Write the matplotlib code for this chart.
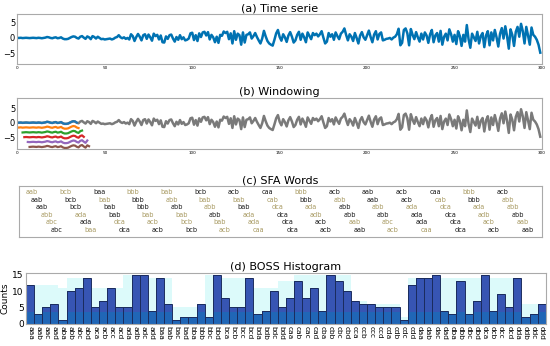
import matplotlib
matplotlib.use("Agg")
import matplotlib.pyplot as plt
import numpy as np

# time series, 300 points
serie = [
    0.0, 0.0, 0.05, -0.05, 0.0, 0.05, 0.0, -0.05, 0.0, 0.05,
    0.0, -0.05, 0.05, 0.0, -0.1, 0.0, 0.1, 0.3, 0.2, 0.0,
    -0.1, 0.1, 0.2, -0.1, 0.0, 0.2, -0.2, -0.4, -0.4, -0.3,
    0.0, 0.3, 0.5, 0.4, 0.0, -0.2, 0.4, 0.6, 0.1, -0.3,
    0.5, 0.2, -0.4, 0.6, 0.3, -0.2, 0.4, 0.0, -0.4, -0.3,
    -0.5, -0.4, -0.3, -0.2, -0.5, -0.3, 0.1, 0.3, 0.9, 0.2,
    -0.1, 0.2, -0.3, 0.0, -0.5, 1.2, 0.6, -1.0, 0.3, 1.3,
    0.4, -0.8, 0.9, 1.2, -0.3, 1.1, 0.2, -0.9, 1.4, 0.6,
    1.0, -0.5, 0.8, -1.4, -1.5, 0.5, -0.3, 0.9, 1.1, -0.2,
    -1.2, 0.3, -0.6, 0.9, -0.4, 0.2, -0.8, -0.6, -0.2, 1.5,
    1.7, -0.7, 0.9, -1.0, 1.5, 0.3, 1.8, 2.0, 0.8, 1.9,
    -0.5, 1.0, 0.2, -1.4, 0.4, -1.6, 1.0, 0.7, 2.1, 1.6,
    2.0, -0.4, 1.5, -1.8, 2.2, -0.6, 1.4, 0.9, -2.2, 1.8,
    -1.5, 1.0, 1.2, 1.8, -0.2, 0.6, 1.6, 0.3, -0.8, -1.8,
    -0.2, 2.3, 0.5, -1.0, -1.8, -2.2, -2.5, -0.6, 1.5, 2.6,
    0.3, -0.9, 1.2, 0.2, -1.3, 0.8, 1.9, 0.4, -1.5, -0.8,
    1.0, 2.0, -0.6, 1.4, 0.2, -1.4, 1.8, 0.7, -0.4, 1.6,
    0.9, 1.4, 0.5, 1.2, 2.2, 0.1, -1.8, -1.2, 1.6, 0.4,
    1.2, -0.6, 1.8, 0.6, -0.4, 1.4, 2.0, 3.1, 1.0, -0.8,
    1.2, 0.4, -1.0, 1.6, 0.0, -1.8, 0.8, 1.9, 0.2, -0.6,
    0.9, 2.4, 0.3, -1.4, 1.1, 2.2, -0.5, 1.3, 1.8, -0.8,
    -0.6, -0.3, -0.2, 0.0, -0.5, 0.1, 0.4, 1.2, 3.0, -2.4,
    -1.6, 2.6, 3.1, 1.5, -2.4, 2.9, 1.0, -0.4, 1.9, 0.2,
    -1.2, 1.4, -0.5, 1.8, 0.8, -1.6, 1.2, 2.6, -1.4, 0.8,
    1.6, -1.2, 2.3, -2.2, 0.4, 1.4, -0.8, 2.8, 1.2, -1.2,
    1.0, -2.0, 2.2, 0.6, -2.6, 1.0, -1.2, 4.2, -0.4, -3.2,
    1.4, 0.2, -1.0, 2.0, -1.8, 0.6, 1.6, -3.0, 0.8, 2.2,
    -2.4, 1.8, -0.8, 2.6, 0.2, -2.8, 1.4, 3.2, -0.2, 3.8,
    0.6, -3.5, 2.8, 1.0, -2.6, 2.0, 3.6, 0.4, 4.6, 2.2,
    -1.8, 3.6, 0.8, -2.2, 3.4, 1.0, 0.4, -0.6, -2.2, -4.8,
]

# sliding windows shown in panel (b)
win_starts = [0, 1, 3, 4, 6, 7]
win_len = 35
win_offset = 1.65
win_colors = ['#1f77b4', '#ff7f0e', '#2ca02c', '#d62728', '#9467bd', '#8c564b']

# SFA words, one row per window, 'g' = highlighted word
words = [
    ['aab', 'bcb', 'baa', 'bbb', 'bab', 'bcb', 'acb', 'caa', 'bbb', 'acb', 'aab', 'acb', 'caa', 'bbb', 'acb'],
    ['aab', 'bcb', 'bab', 'bbb', 'abb', 'bab', 'bab', 'cab', 'bbb', 'abb', 'aab', 'acb', 'cab', 'bbb', 'abb'],
    ['aab', 'bcb', 'bab', 'bbb', 'abb', 'abb', 'bab', 'dca', 'ada', 'abb', 'abb', 'ada', 'dca', 'ada', 'abb'],
    ['abb', 'ada', 'bab', 'bab', 'bab', 'abb', 'ada', 'dca', 'adb', 'abb', 'abb', 'ada', 'dca', 'adb', 'abb'],
    ['abc', 'ada', 'dca', 'acb', 'bcb', 'bab', 'ada', 'dca', 'acb', 'aab', 'abc', 'ada', 'dca', 'acb', 'aab'],
    ['abc', 'baa', 'dca', 'acb', 'bcb', 'acb', 'caa', 'dca', 'acb', 'aab', 'acb', 'caa', 'dca', 'acb', 'aab'],
]
word_marks = [
    'ggkggkkkgkkkkgk',
    'kkgkggggkgkkgkg',
    'kkkkkgkggkgggggk'[:15],
    'ggkggkgkgkkkkgk',
    'gkgggggkkggkkgg',
    'kgkkkggkkkggkkk',
]

# BOSS histogram
letters = 'abcd'
hist_labels = [a + b + c for a in letters for b in letters for c in letters]
hist_counts = [12, 3, 5, 6, 1, 10, 11, 14, 5, 7, 11, 5, 5, 15, 15, 4,
               14, 6, 1, 2, 2, 6, 2, 15, 8, 5, 5, 14, 3, 4, 10, 5,
               8, 13, 8, 11, 4, 15, 13, 10, 7, 6, 6, 5, 5, 5, 1, 12,
               14, 14, 15, 4, 3, 13, 3, 7, 15, 4, 9, 5, 14, 2, 3, 6]
hist_shade = [12, 12, 12, 12, 11, 14, 14, 14, 11, 11, 11, 11, 15, 15, 15, 14,
              14, 14, 5, 5, 5, 6, 15, 15, 14, 14, 14, 14, 11, 11, 11, 13,
              13, 15, 15, 15, 15, 15, 15, 15, 7, 7, 6, 6, 6, 6, 2, 14,
              14, 14, 14, 14, 14, 14, 14, 14, 14, 14, 14, 14, 14, 6, 6, 6]

fig = plt.figure(figsize=(5.5, 3.46), dpi=100)
spine_c = '#aaaaaa'
title_fs = 8

def style(ax):
    for s in ax.spines.values():
        s.set_color(spine_c)
        s.set_linewidth(0.8)
    ax.tick_params(length=0, pad=1.5)

x = np.arange(len(serie))
y = np.array(serie)

# (a)
ax1 = fig.add_axes([0.0315, 0.815, 0.954, 0.1445])
ax1.plot(x, y, color='#0072b2', lw=1.8)
ax1.set_xlim(0, 300)
ax1.set_ylim(-8.5, 7.8)
ax1.set_yticks([-5, 0, 5])
ax1.set_xticks(range(0, 301, 50))
ax1.tick_params(axis='y', labelsize=6)
ax1.tick_params(axis='x', labelsize=3)
style(ax1)
ax1.set_title('(a) Time serie', fontsize=title_fs, pad=2)

# (b)
ax2 = fig.add_axes([0.0315, 0.5694, 0.954, 0.147])
ax2.plot(x, y, color='#7a7a7a', lw=1.8)
for i, (st, c) in enumerate(zip(win_starts, win_colors)):
    xs = x[st:st + win_len]
    ax2.plot(xs, y[xs] - i * win_offset, color=c, lw=1.6)
ax2.set_xlim(0, 300)
ax2.set_ylim(-9, 8.4)
ax2.set_yticks([-5, 0, 5])
ax2.set_xticks(range(0, 301, 50))
ax2.tick_params(axis='y', labelsize=6)
ax2.tick_params(axis='x', labelsize=3)
style(ax2)
ax2.set_title('(b) Windowing', fontsize=title_fs, pad=2)

# (c)
ax3 = fig.add_axes([0.0345, 0.315, 0.951, 0.147])
ax3.set_xticks([])
ax3.set_yticks([])
style(ax3)
row_y = [0.88, 0.735, 0.59, 0.44, 0.29, 0.135]
for r, row in enumerate(words):
    for j, w in enumerate(row):
        px = 32 + r * 5.0 + j * 33.6
        col = '#a89a62' if word_marks[r][j] == 'g' else '#1a1a1a'
        ax3.text((px - 19) / 523, row_y[r], w, transform=ax3.transAxes,
                 ha='center', va='center', fontsize=4.7, color=col)
ax3.set_title('(c) SFA Words', fontsize=title_fs, pad=2)

# (d)
ax4 = fig.add_axes([0.0473, 0.0645, 0.945, 0.1465])
pos = np.arange(len(hist_labels))
counts = np.array(hist_counts)
ax4.bar(pos, hist_shade, width=1.0, color='#dcfafa', edgecolor='none')
ax4.bar(pos, counts, width=1.0, color='#3755b3', edgecolor='none')
ax4.bar(pos, np.minimum(counts, 3.6), width=1.0, color='#2066b6', edgecolor='none')
ax4.bar(pos, counts, width=1.0, color='none', edgecolor='#1b2c5e', lw=0.7)
ax4.set_xlim(-0.5, 63.5)
ax4.set_ylim(0, 15.6)
ax4.set_yticks([0, 5, 10, 15])
ax4.set_xticks(pos)
ax4.set_xticklabels(hist_labels, rotation=270, fontsize=5.3)
ax4.tick_params(axis='y', labelsize=6.5)
ax4.set_ylabel('Counts', fontsize=6.5, labelpad=2)
style(ax4)
ax4.set_title('(d) BOSS Histogram', fontsize=title_fs, pad=2)

fig.savefig('out.png', dpi=100)
